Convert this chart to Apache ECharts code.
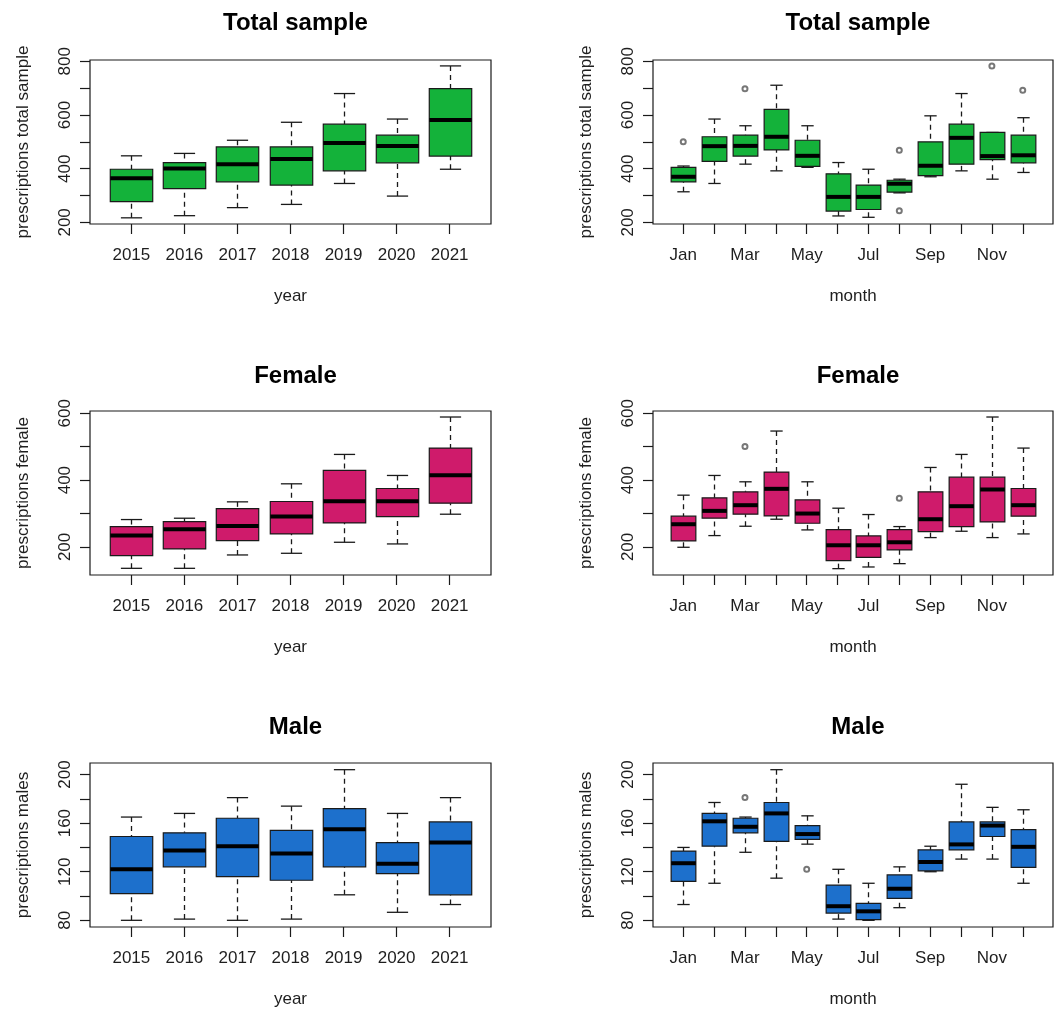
<!DOCTYPE html>
<html>
<head>
<meta charset="utf-8">
<script src="https://cdn.jsdelivr.net/npm/echarts@6/dist/echarts.min.js"></script>
<style>
html,body{margin:0;padding:0;background:#fff;}
#chart{width:1059px;height:1013px;}
</style>
</head>
<body>
<div id="chart"></div>
<script>
// ---------- categories ----------
const years = ['2015','2016','2017','2018','2019','2020','2021'];
const months = ['Jan','Feb','Mar','Apr','May','Jun','Jul','Aug','Sep','Oct','Nov','Dec'];

// ---------- five-number summaries [lower whisker, Q1, median, Q3, upper whisker] ----------
const totalByYear = [
  [217,277,364,398,448],[225,326,401,423,457],[255,351,417,481,506],
  [267,339,436,481,573],[345,392,496,566,680],[298,422,485,525,585],
  [398,447,581,698,783]
];
const totalByMonth = [
  [314,351,370,405,410],[345,427,484,519,585],[417,447,485,525,560],
  [392,470,519,621,711],[405,409,448,506,560],[224,242,295,381,423],
  [219,248,295,339,398],[310,313,344,357,361],[370,374,411,500,597],
  [392,417,515,566,680],[361,434,447,535,535],[386,422,450,525,590]
];
const femaleByYear = [
  [136,174,234,261,282],[136,194,253,276,286],[176,219,263,315,335],
  [181,239,291,336,389],[214,272,337,429,477],[209,291,337,375,414],
  [298,331,415,496,589]
];
const femaleByMonth = [
  [199,218,268,292,355],[234,286,308,347,414],[262,298,325,365,395],
  [283,293,374,424,547],[251,271,300,341,395],[135,159,205,252,316],
  [140,169,205,233,297],[150,191,214,252,261],[228,246,283,365,438],
  [247,261,322,409,477],[228,275,372,409,589],[239,292,325,375,496]
];
const maleByYear = [
  [80,102,122,149,165],[81,124,137.5,152,168],[80,116,141,164,181],
  [81,113,135,154,174],[101,124,155,172,204],[86.6,118.5,126.5,144,168],
  [93,101,144,161,181]
];
const maleByMonth = [
  [93,112,127,137,140],[110.5,141,161.5,168,177],[136,152,157,164,165],
  [114.7,145,168,177,204],[142.7,146.6,151,158,166],[81,86,91.6,109,122],
  [80,80.5,87.4,94,110.5],[90.4,98,106,117.4,124],[120,120.7,128,138,141],
  [130.4,138,142.5,161,192],[130.4,149,158,161,173],[110.5,123.5,140.5,154.6,171]
];

// ---------- outliers [category, value] ----------
const totalMonthOutliers = [['Jan',500],['Mar',698],['Aug',469],['Aug',243],['Nov',783],['Dec',692]];
const femaleMonthOutliers = [['Mar',501],['Aug',346]];
const maleMonthOutliers = [['Mar',181],['May',122]];

// ---------- axis ticks ----------
const totalTicks = [200,300,400,500,600,700,800];
const totalLabels = [200,400,600,800];
const femaleTicks = [200,300,400,500,600];
const femaleLabels = [200,400,600];
const maleTicks = [80,100,120,140,160,180,200];
const maleLabels = [80,120,160,200];
const monthLabelIdx = ['Jan','Mar','May','Jul','Sep','Nov'];

// ---------- styling ----------
const FONT = 'Liberation Sans, Arial, Helvetica, sans-serif';
const TXT = '#1e1e1e';
const GREEN = '#14b23a';
const PINK = '#cf1b6b';
const BLUE = '#1d70cc';

const panels = [
  {title:'Total sample', cats:years, box:totalByYear, out:[], color:GREEN, yName:'prescriptions total sample', xName:'year', ticks:totalTicks, labels:totalLabels, ymin:194, ymax:805, col:0, row:0},
  {title:'Total sample', cats:months, box:totalByMonth, out:totalMonthOutliers, color:GREEN, yName:'prescriptions total sample', xName:'month', ticks:totalTicks, labels:totalLabels, ymin:194, ymax:805, col:1, row:0},
  {title:'Female', cats:years, box:femaleByYear, out:[], color:PINK, yName:'prescriptions female', xName:'year', ticks:femaleTicks, labels:femaleLabels, ymin:116, ymax:607, col:0, row:1},
  {title:'Female', cats:months, box:femaleByMonth, out:femaleMonthOutliers, color:PINK, yName:'prescriptions female', xName:'month', ticks:femaleTicks, labels:femaleLabels, ymin:116, ymax:607, col:1, row:1},
  {title:'Male', cats:years, box:maleByYear, out:[], color:BLUE, yName:'prescriptions males', xName:'year', ticks:maleTicks, labels:maleLabels, ymin:74.5, ymax:209.5, col:0, row:2},
  {title:'Male', cats:months, box:maleByMonth, out:maleMonthOutliers, color:BLUE, yName:'prescriptions males', xName:'month', ticks:maleTicks, labels:maleLabels, ymin:74.5, ymax:209.5, col:1, row:2}
];

const colLeft = [90, 653];
const colWidth = [401, 400];
const rowTop = [60, 411, 763];
const rowHeight = 164;
const titleTop = [6, 359, 710];

function renderBox(color) {
  return function (params, api) {
    const x = api.value(0);
    const lo = api.coord([x, api.value(1)]);
    const q1 = api.coord([x, api.value(2)]);
    const md = api.coord([x, api.value(3)]);
    const q3 = api.coord([x, api.value(4)]);
    const hi = api.coord([x, api.value(5)]);
    const w = api.size([0.8, 0])[0];
    const cx = Math.round(lo[0]) + 0.5;
    const cap = w / 4;
    const dash = {stroke:'#1a1a1a', lineWidth:1.3, lineDash:[5,4]};
    const solid = {stroke:'#1a1a1a', lineWidth:1.3};
    return {
      type:'group',
      children:[
        {type:'line', shape:{x1:cx, y1:hi[1], x2:cx, y2:q3[1]}, style:dash},
        {type:'line', shape:{x1:cx, y1:lo[1], x2:cx, y2:q1[1]}, style:dash},
        {type:'line', shape:{x1:cx-cap, y1:hi[1], x2:cx+cap, y2:hi[1]}, style:solid},
        {type:'line', shape:{x1:cx-cap, y1:lo[1], x2:cx+cap, y2:lo[1]}, style:solid},
        {type:'rect', shape:{x:cx-w/2, y:q3[1], width:w, height:q1[1]-q3[1]}, style:{fill:color, stroke:'#1a1a1a', lineWidth:1.2}},
        {type:'line', shape:{x1:cx-w/2, y1:md[1], x2:cx+w/2, y2:md[1]}, style:{stroke:'#000', lineWidth:4}}
      ]
    };
  };
}

const grid = [], xAxis = [], yAxis = [], series = [], title = [];
panels.forEach((p, i) => {
  const left = colLeft[p.col], width = colWidth[p.col], top = rowTop[p.row];
  const n = p.cats.length;
  const pad = n * 0.04;
  grid.push({left:left, top:top, width:width, height:rowHeight, show:true, borderColor:'#1a1a1a', borderWidth:1.2, backgroundColor:'transparent', containLabel:false, outerBoundsMode:'none'});
  title.push({text:p.title, left:left + width/2, top:titleTop[p.row], textAlign:'center',
    textStyle:{fontFamily:FONT, fontSize:24, fontWeight:'bold', color:'#000'}});
  const catIdx = p.cats.map((c, k) => k + 1);
  const labelIdx = (p.cats === months) ? monthLabelIdx.map(m => months.indexOf(m) + 1) : catIdx;
  xAxis.push({
    type:'value', gridIndex:i, min:0.5 - pad, max:n + 0.5 + pad,
    name:p.xName, nameLocation:'middle', nameGap:64,
    nameTextStyle:{fontFamily:FONT, fontSize:17, color:TXT, verticalAlign:'top'},
    axisLine:{show:false}, splitLine:{show:false},
    axisTick:{show:true, length:10, customValues:catIdx, lineStyle:{color:'#1a1a1a', width:1.2}},
    axisLabel:{show:true, customValues:labelIdx, margin:23, fontFamily:FONT, fontSize:17, color:TXT,
      formatter:(v) => p.cats[Math.round(v) - 1] || ''}
  });
  yAxis.push({
    type:'value', gridIndex:i, min:p.ymin, max:p.ymax,
    name:p.yName, nameLocation:'middle', nameGap:58, nameRotate:90,
    nameTextStyle:{fontFamily:FONT, fontSize:17, color:TXT},
    axisLine:{show:false}, splitLine:{show:false},
    axisTick:{show:true, length:10, customValues:p.ticks, lineStyle:{color:'#1a1a1a', width:1.2}},
    axisLabel:{show:true, customValues:p.labels, rotate:90, margin:16, fontFamily:FONT, fontSize:17, color:TXT}
  });
  series.push({
    type:'custom', xAxisIndex:i, yAxisIndex:i, silent:true,
    renderItem:renderBox(p.color),
    encode:{x:0, y:[1,2,3,4,5]},
    data:p.box.map((s, k) => [k + 1].concat(s))
  });
  if (p.out.length) {
    series.push({
      type:'scatter', xAxisIndex:i, yAxisIndex:i, silent:true, z:5,
      symbol:'emptyCircle', symbolSize:5,
      itemStyle:{color:'#555', borderColor:'#555', borderWidth:1.2},
      data:p.out.map(o => [p.cats.indexOf(o[0]) + 1, o[1]])
    });
  }
});

const chart = echarts.init(document.getElementById('chart'), null, {renderer:'canvas'});
chart.setOption({
  animation:false,
  backgroundColor:'#fff',
  title:title, grid:grid, xAxis:xAxis, yAxis:yAxis, series:series
});
</script>
</body>
</html>
